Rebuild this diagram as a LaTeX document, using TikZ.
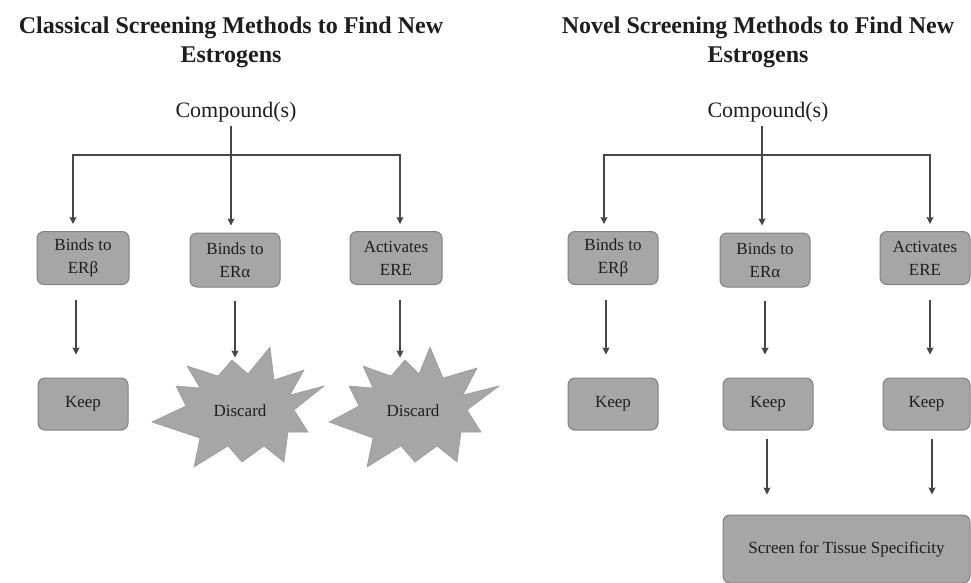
\documentclass[tikz,border=0pt]{standalone}
\usepackage{fontspec}
\setmainfont{Liberation Serif}
\usetikzlibrary{arrows.meta}
\definecolor{boxfill}{RGB}{166,166,166}
\definecolor{boxline}{RGB}{128,128,128}
\definecolor{ink}{RGB}{30,30,30}
\definecolor{linecol}{RGB}{70,70,70}
\tikzset{
  box/.style={draw=boxline, fill=boxfill, line width=1pt, rounded corners=7pt, align=center,
    font=\fontsize{17}{23}\selectfont, text=ink, inner sep=0pt},
  title/.style={align=center, font=\fontsize{24}{29}\selectfont\bfseries, text=ink},
  cmp/.style={font=\fontsize{22}{26}\selectfont, text=ink},
  lbl/.style={font=\fontsize{17}{23}\selectfont, text=ink},
  conn/.style={draw=linecol, line width=1.1pt},
  arr/.style={conn, -{Stealth[length=7pt,width=7pt,inset=1pt]}},
  starshape/.style={fill=boxfill, draw=boxfill!90!black, line width=0.5pt, line join=miter}
}
\begin{document}
\begin{tikzpicture}[x=1pt,y=-1pt]
\useasboundingbox (0,0) rectangle (971,583);

% ---------------- Left panel ----------------
\node[title] (t1) at (231,42) {Classical Screening Methods to Find New\\Estrogens};
\node[cmp] (c1) at (236,112) {Compound(s)};
\coordinate (lj) at (231,155);

\node[box, minimum width=92pt, minimum height=53pt] (b1) at (83,258) {Binds to\\ERβ};
\node[box, minimum width=90pt, minimum height=54pt] (b2) at (235,260) {Binds to\\ERα};
\node[box, minimum width=92pt, minimum height=53pt] (b3) at (396,258) {Activates\\ERE};
\node[box, minimum width=90pt, minimum height=52pt] (k1) at (83,404) {Keep};

\filldraw[starshape, shift={(240,410)}]
  (30,-63) -- (34,-30) -- (64,-40) -- (50,-15) -- (84,-24) -- (54,0) -- (68,22) -- (48,22)
  -- (44,52) -- (24,36) -- (2,52) -- (-12,36) -- (-46,57) -- (-40,28) -- (-88,12) -- (-54,-4)
  -- (-64,-24) -- (-40,-22) -- (-53,-44) -- (-22,-34) -- (-8,-50) -- (8,-36) -- cycle;
\node[lbl] (d1) at (240,411) {Discard};

\filldraw[starshape, shift={(413,410)}]
  (17,-63) -- (30,-32) -- (64,-42) -- (50,-15) -- (86,-24) -- (54,0) -- (68,22) -- (48,22)
  -- (44,52) -- (24,36) -- (2,52) -- (-12,36) -- (-46,57) -- (-40,28) -- (-84,12) -- (-54,-4)
  -- (-64,-24) -- (-40,-22) -- (-50,-44) -- (-22,-34) -- (-8,-50) -- (6,-36) -- cycle;
\node[lbl] (d2) at (413,411) {Discard};

\draw[conn] ([xshift=-5pt]c1.south) -- (lj);
\draw[arr, shorten >=7pt] (lj) -| ([xshift=-10pt]b1.north);
\draw[arr, shorten >=7pt] (lj) -- ([xshift=-4pt]b2.north);
\draw[arr, shorten >=7pt] (lj) -| ([xshift=4pt]b3.north);

\draw[arr, shorten <=15pt, shorten >=23pt] ([xshift=-7pt]b1.south) -- ([xshift=-7pt]b1.south |- k1.north);
\draw[arr, shorten <=13pt, shorten >=44pt] (b2.south) -- (b2.south |- d1.north);
\draw[arr, shorten <=15pt, shorten >=44pt] ([xshift=4pt]b3.south) -- ([xshift=4pt]b3.south |- d2.north);

% ---------------- Right panel ----------------
\node[title] (t2) at (758,42) {Novel Screening Methods to Find New\\Estrogens};
\node[cmp] (c2) at (768,112) {Compound(s)};
\coordinate (rj) at (762,155);

\node[box, minimum width=90pt, minimum height=53pt] (rb1) at (613,258) {Binds to\\ERβ};
\node[box, minimum width=90pt, minimum height=54pt] (rb2) at (765,260) {Binds to\\ERα};
\node[box, minimum width=90pt, minimum height=53pt] (rb3) at (925,258) {Activates\\ERE};
\node[box, minimum width=90pt, minimum height=52pt] (rk1) at (613,404) {Keep};
\node[box, minimum width=90pt, minimum height=52pt] (rk2) at (768,404) {Keep};
\node[box, minimum width=87pt, minimum height=52pt] (rk3) at (926.5,404) {Keep};
\node[box, minimum width=247pt, minimum height=68pt] (sc) at (846.5,549) {Screen for Tissue Specificity};

\draw[conn] ([xshift=-6pt]c2.south) -- (rj);
\draw[arr, shorten >=7pt] (rj) -| ([xshift=-9pt]rb1.north);
\draw[arr, shorten >=7pt] (rj) -- ([xshift=-3pt]rb2.north);
\draw[arr, shorten >=7pt] (rj) -| ([xshift=5pt]rb3.north);

\draw[arr, shorten <=15pt, shorten >=23pt] ([xshift=-7pt]rb1.south) -- ([xshift=-7pt]rb1.south |- rk1.north);
\draw[arr, shorten <=13pt, shorten >=23pt] (rb2.south) -- (rb2.south |- rk2.north);
\draw[arr, shorten <=15pt, shorten >=23pt] ([xshift=5pt]rb3.south) -- ([xshift=5pt]rb3.south |- rk3.north);

\draw[arr, shorten <=8pt, shorten >=20pt] ([xshift=-1pt]rk2.south) -- ([xshift=-1pt]rk2.south |- sc.north);
\draw[arr, shorten <=8pt, shorten >=20pt] ([xshift=5.5pt]rk3.south) -- ([xshift=5.5pt]rk3.south |- sc.north);
\end{tikzpicture}
\end{document}
